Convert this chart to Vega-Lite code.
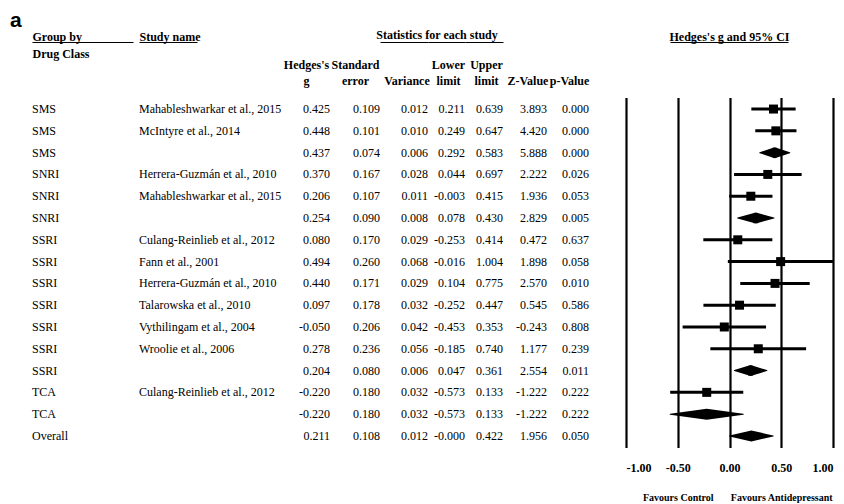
{
  "$schema": "https://vega.github.io/schema/vega-lite/v6.json",
  "background": "white",
  "padding": {"left": 10, "top": 9.5, "right": 0, "bottom": 0},
  "title": {"text": "a", "anchor": "start", "font": "Liberation Sans", "fontSize": 21, "fontWeight": "bold", "color": "#000", "dx": -22, "offset": -2},
  "datasets": {
    "studies": [
      {"row": 1, "grp": "SMS", "study": "Mahableshwarkar et al., 2015", "g": "0.425", "se": "0.109", "var": "0.012", "lo": "0.211", "hi": "0.639", "z": "3.893", "p": "0.000"},
      {"row": 2, "grp": "SMS", "study": "McIntyre et al., 2014", "g": "0.448", "se": "0.101", "var": "0.010", "lo": "0.249", "hi": "0.647", "z": "4.420", "p": "0.000"},
      {"row": 3, "grp": "SMS", "study": "", "g": "0.437", "se": "0.074", "var": "0.006", "lo": "0.292", "hi": "0.583", "z": "5.888", "p": "0.000"},
      {"row": 4, "grp": "SNRI", "study": "Herrera-Guzmán et al., 2010", "g": "0.370", "se": "0.167", "var": "0.028", "lo": "0.044", "hi": "0.697", "z": "2.222", "p": "0.026"},
      {"row": 5, "grp": "SNRI", "study": "Mahableshwarkar et al., 2015", "g": "0.206", "se": "0.107", "var": "0.011", "lo": "-0.003", "hi": "0.415", "z": "1.936", "p": "0.053"},
      {"row": 6, "grp": "SNRI", "study": "", "g": "0.254", "se": "0.090", "var": "0.008", "lo": "0.078", "hi": "0.430", "z": "2.829", "p": "0.005"},
      {"row": 7, "grp": "SSRI", "study": "Culang-Reinlieb et al., 2012", "g": "0.080", "se": "0.170", "var": "0.029", "lo": "-0.253", "hi": "0.414", "z": "0.472", "p": "0.637"},
      {"row": 8, "grp": "SSRI", "study": "Fann et al., 2001", "g": "0.494", "se": "0.260", "var": "0.068", "lo": "-0.016", "hi": "1.004", "z": "1.898", "p": "0.058"},
      {"row": 9, "grp": "SSRI", "study": "Herrera-Guzmán et al., 2010", "g": "0.440", "se": "0.171", "var": "0.029", "lo": "0.104", "hi": "0.775", "z": "2.570", "p": "0.010"},
      {"row": 10, "grp": "SSRI", "study": "Talarowska et al., 2010", "g": "0.097", "se": "0.178", "var": "0.032", "lo": "-0.252", "hi": "0.447", "z": "0.545", "p": "0.586"},
      {"row": 11, "grp": "SSRI", "study": "Vythilingam et al., 2004", "g": "-0.050", "se": "0.206", "var": "0.042", "lo": "-0.453", "hi": "0.353", "z": "-0.243", "p": "0.808"},
      {"row": 12, "grp": "SSRI", "study": "Wroolie et al., 2006", "g": "0.278", "se": "0.236", "var": "0.056", "lo": "-0.185", "hi": "0.740", "z": "1.177", "p": "0.239"},
      {"row": 13, "grp": "SSRI", "study": "", "g": "0.204", "se": "0.080", "var": "0.006", "lo": "0.047", "hi": "0.361", "z": "2.554", "p": "0.011"},
      {"row": 14, "grp": "TCA", "study": "Culang-Reinlieb et al., 2012", "g": "-0.220", "se": "0.180", "var": "0.032", "lo": "-0.573", "hi": "0.133", "z": "-1.222", "p": "0.222"},
      {"row": 15, "grp": "TCA", "study": "", "g": "-0.220", "se": "0.180", "var": "0.032", "lo": "-0.573", "hi": "0.133", "z": "-1.222", "p": "0.222"},
      {"row": 16, "grp": "Overall", "study": "", "g": "0.211", "se": "0.108", "var": "0.012", "lo": "-0.000", "hi": "0.422", "z": "1.956", "p": "0.050"}
    ]
  },
  "data": {"name": "studies"},
  "spacing": 0,
  "bounds": "flush",
  "hconcat": [
    {
      "width": 107, "height": 350,
      "mark": {"type": "text", "align": "left"},
      "encoding": {
        "x": {"datum": "Drug Class", "type": "nominal",
              "scale": {"type": "point", "padding": 0, "align": 0, "range": [0, 101]},
              "axis": {"orient": "top", "offset": 55.5, "domain": true, "labelAngle": 0, "labelAlign": "left", "labelBaseline": "bottom", "labelPadding": -18,
                       "title": "Group by", "titleAnchor": "start", "titleAlign": "left", "titleBaseline": "alphabetic", "titlePadding": 1.5}},
        "y": {"field": "row", "type": "ordinal", "scale": {"type": "point", "padding": 0.53}, "axis": null},
        "text": {"field": "grp", "type": "nominal"}
      }
    },
    {
      "width": 142, "height": 350,
      "mark": {"type": "text", "align": "left"},
      "encoding": {
        "x": {"datum": "Study name", "type": "nominal",
              "scale": {"type": "point", "padding": 0, "align": 0, "range": [0, 58]},
              "axis": {"orient": "top", "offset": 55.5, "domain": true, "labels": false,
                       "title": "Study name", "titleAnchor": "start", "titleAlign": "left", "titleBaseline": "alphabetic", "titlePadding": 1.5}},
        "y": {"field": "row", "type": "ordinal", "scale": {"type": "point", "padding": 0.53}, "axis": null},
        "text": {"field": "study", "type": "nominal"}
      }
    },
    {
      "width": 49, "height": 350,
      "mark": {"type": "text", "align": "right"},
      "encoding": {
        "x": {"datum": "Hedges's g", "type": "nominal", "scale": {"type": "point", "padding": 0, "align": 1},
              "axis": {"orient": "top", "offset": 55.5, "domain": false, "title": null, "labelAngle": 0, "labelAlign": "center", "labelBaseline": "bottom", "labelPadding": -29.5, "labelOffset": -24, "labelLineHeight": 16, "labelExpr": "split(datum.label, ' ')"}},
        "y": {"field": "row", "type": "ordinal", "scale": {"type": "point", "padding": 0.53}, "axis": null},
        "text": {"field": "g", "type": "nominal"}
      }
    },
    {
      "width": 50, "height": 350,
      "mark": {"type": "text", "align": "right"},
      "encoding": {
        "x": {"datum": "Standard error", "type": "nominal", "scale": {"type": "point", "padding": 0, "align": 1},
              "axis": {"orient": "top", "offset": 55.5, "domain": false, "title": null, "labelAngle": 0, "labelAlign": "center", "labelBaseline": "bottom", "labelPadding": -29.5, "labelOffset": -25, "labelLineHeight": 16, "labelExpr": "split(datum.label, ' ')"}},
        "y": {"field": "row", "type": "ordinal", "scale": {"type": "point", "padding": 0.53}, "axis": null},
        "text": {"field": "se", "type": "nominal"}
      }
    },
    {
      "width": 48, "height": 350,
      "mark": {"type": "text", "align": "right"},
      "encoding": {
        "x": {"datum": "Variance", "type": "nominal", "scale": {"type": "point", "padding": 0, "align": 1},
              "axis": {"orient": "top", "offset": 55.5, "domain": true, "title": null, "labelAngle": 0, "labelAlign": "center", "labelBaseline": "bottom", "labelPadding": -45.5, "labelOffset": -21.5, "labelLineHeight": 16, "labelExpr": "split(datum.label, ' ')"}},
        "y": {"field": "row", "type": "ordinal", "scale": {"type": "point", "padding": 0.53}, "axis": null},
        "text": {"field": "var", "type": "nominal"}
      }
    },
    {
      "width": 37, "height": 350,
      "title": {"text": "Statistics for each study", "anchor": "middle", "dx": -9.5, "offset": 0},
      "mark": {"type": "text", "align": "right"},
      "encoding": {
        "x": {"datum": "Lower limit", "type": "nominal", "scale": {"type": "point", "padding": 0, "align": 1},
              "axis": {"orient": "top", "offset": 55.5, "domain": true, "title": null, "labelAngle": 0, "labelAlign": "center", "labelBaseline": "bottom", "labelPadding": -29.5, "labelOffset": -17, "labelLineHeight": 16, "labelExpr": "split(datum.label, ' ')"}},
        "y": {"field": "row", "type": "ordinal", "scale": {"type": "point", "padding": 0.53}, "axis": null},
        "text": {"field": "lo", "type": "nominal"}
      }
    },
    {
      "width": 38, "height": 350,
      "mark": {"type": "text", "align": "right"},
      "encoding": {
        "x": {"datum": "Upper limit", "type": "nominal", "scale": {"type": "point", "padding": 0, "align": 1},
              "axis": {"orient": "top", "offset": 55.5, "domain": true, "title": null, "labelAngle": 0, "labelAlign": "center", "labelBaseline": "bottom", "labelPadding": -29.5, "labelOffset": -17, "labelLineHeight": 16, "labelExpr": "split(datum.label, ' ')"}},
        "y": {"field": "row", "type": "ordinal", "scale": {"type": "point", "padding": 0.53}, "axis": null},
        "text": {"field": "hi", "type": "nominal"}
      }
    },
    {
      "width": 44, "height": 350,
      "mark": {"type": "text", "align": "right"},
      "encoding": {
        "x": {"datum": "Z-Value", "type": "nominal", "scale": {"type": "point", "padding": 0, "align": 1},
              "axis": {"orient": "top", "offset": 55.5, "domain": false, "title": null, "labelAngle": 0, "labelAlign": "center", "labelBaseline": "bottom", "labelPadding": -45.5, "labelOffset": -19.5, "labelLineHeight": 16, "labelExpr": "split(datum.label, ' ')"}},
        "y": {"field": "row", "type": "ordinal", "scale": {"type": "point", "padding": 0.53}, "axis": null},
        "text": {"field": "z", "type": "nominal"}
      }
    },
    {
      "width": 42, "height": 350,
      "mark": {"type": "text", "align": "right"},
      "encoding": {
        "x": {"datum": "p-Value", "type": "nominal", "scale": {"type": "point", "padding": 0, "align": 1},
              "axis": {"orient": "top", "offset": 55.5, "domain": false, "title": null, "labelAngle": 0, "labelAlign": "center", "labelBaseline": "bottom", "labelPadding": -45.5, "labelOffset": -20, "labelLineHeight": 16, "labelExpr": "split(datum.label, ' ')"}},
        "y": {"field": "row", "type": "ordinal", "scale": {"type": "point", "padding": 0.53}, "axis": null},
        "text": {"field": "p", "type": "nominal"}
      }
    },
    {
      "width": 244, "height": 350,
      "layer": [
        {
          "layer": [
            {
              "transform": [{"filter": "datum.study !== ''"}],
              "mark": {"type": "rule", "strokeWidth": 3, "color": "#000"},
              "encoding": {
                "x": {"field": "lo", "type": "quantitative",
                      "scale": {"domain": [-1, 1], "range": [37, 244], "nice": false, "zero": false},
                      "axis": {"orient": "bottom", "values": [-1, -0.5, 0, 0.5, 1], "format": ".2f", "labelAngle": 0, "grid": true, "gridColor": "#000", "gridWidth": 2.2, "gridOpacity": 1, "domain": false, "labelPadding": 15, "title": null}},
                "x2": {"field": "hi"},
                "y": {"field": "row", "type": "ordinal", "scale": {"type": "point", "padding": 0.53}, "axis": null}
              }
            },
            {
              "transform": [{"filter": "datum.study !== ''"}],
              "mark": {"type": "square", "size": 81, "color": "#000", "opacity": 1},
              "encoding": {
                "x": {"field": "g", "type": "quantitative"},
                "y": {"field": "row", "type": "ordinal", "scale": {"type": "point", "padding": 0.53}, "axis": null}
              }
            },
            {
              "transform": [{"filter": "datum.study === ''"}, {"fold": ["lo", "g", "hi"], "as": ["end", "val"]}],
              "mark": {"type": "trail", "color": "#000"},
              "encoding": {
                "x": {"field": "val", "type": "quantitative"},
                "y": {"field": "row", "type": "ordinal", "scale": {"type": "point", "padding": 0.53}, "axis": null},
                "detail": {"field": "row", "type": "nominal"},
                "order": {"value": null},
                "size": {"condition": {"test": "datum.end === 'g'", "value": 11}, "value": 0}
              }
            }
          ]
        },
        {
          "data": {"values": []},
          "mark": "rule",
          "encoding": {
            "x": {"datum": 0, "type": "quantitative",
                  "scale": {"domain": [-1, 1], "range": [37, 244], "nice": false, "zero": false},
                  "axis": {"orient": "bottom", "values": [-0.5, 0.5], "labelAngle": 0, "labelExpr": "datum.value < 0 ? 'Favours Control' : 'Favours Antidepressant'", "labelFontSize": 10, "labelPadding": 44.6, "grid": false, "domain": false, "title": null}}
          }
        },
        {
          "data": {"values": []},
          "mark": "rule",
          "encoding": {
            "x": {"datum": 0, "type": "quantitative",
                  "scale": {"domain": [-1, 1], "range": [81, 199], "nice": false, "zero": false},
                  "axis": {"orient": "top", "offset": 55.5, "labels": false, "grid": false, "domain": true, "title": "Hedges's g and 95% CI", "titleBaseline": "alphabetic", "titlePadding": 1.5}}
          }
        }
      ],
      "resolve": {"scale": {"x": "independent"}, "axis": {"x": "independent"}}
    }
  ],
  "config": {
    "view": {"stroke": null},
    "font": "Liberation Serif",
    "text": {"font": "Liberation Serif", "fontSize": 12, "color": "#000", "baseline": "middle"},
    "axis": {"labelFont": "Liberation Serif", "labelFontSize": 12, "labelFontWeight": "bold", "labelColor": "#000",
             "titleFont": "Liberation Serif", "titleFontSize": 12, "titleFontWeight": "bold", "titleColor": "#000",
             "domainColor": "#000", "domainWidth": 1.2, "ticks": false, "tickSize": 0},
    "title": {"font": "Liberation Serif", "fontSize": 12, "fontWeight": "bold", "color": "#000"},
    "locale": {"number": {"decimal": ".", "thousands": ",", "grouping": [3], "currency": ["$", ""], "minus": "-"}}
  }
}
